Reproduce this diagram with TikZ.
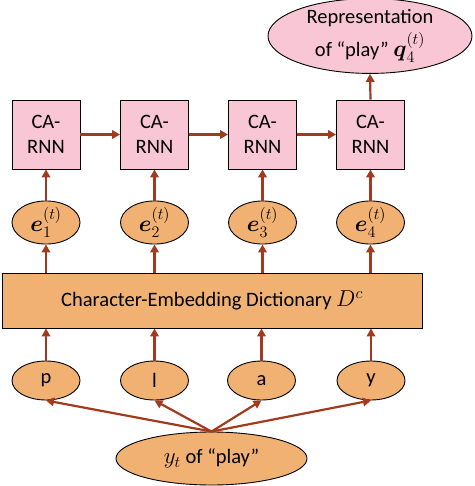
\documentclass[tikz,border=0pt]{standalone}
\usepackage{fix-cm}
\usepackage{amsmath}
\usepackage{fontspec}
\setmainfont{Carlito}
\usetikzlibrary{shapes.geometric,arrows.meta}
\definecolor{boxpink}{HTML}{F9C6D6}
\definecolor{ovorange}{HTML}{F0B172}
\definecolor{arrowred}{HTML}{A33A1F}
\newcommand\mymath[1]{{\fontsize{23}{23}\selectfont$#1$}}
\tikzset{
  lbl/.style={font=\fontsize{20.5}{24.5}\selectfont, align=center, inner sep=0pt},
  rnnbox/.style={lbl, draw=black, line width=0.9pt, fill=boxpink, rectangle, minimum width=68pt, minimum height=69pt},
  repov/.style={lbl, draw=black, line width=0.9pt, fill=boxpink, ellipse, minimum width=204pt, minimum height=64pt},
  embov/.style={lbl, draw=black, line width=0.9pt, fill=ovorange, ellipse, minimum width=68pt, minimum height=33pt},
  charov/.style={lbl, draw=black, line width=0.9pt, fill=ovorange, ellipse, minimum width=68pt, minimum height=39pt},
  dictbox/.style={lbl, draw=black, line width=0.9pt, fill=ovorange, rectangle, minimum width=420pt, minimum height=55pt},
  wordov/.style={lbl, draw=black, line width=0.9pt, fill=ovorange, ellipse, minimum width=191pt, minimum height=53pt},
  conn/.style={draw=arrowred, line width=2.2pt, -{Triangle[length=8pt,width=8.5pt]}}
}
\begin{document}
\begin{tikzpicture}[x=1pt,y=-1pt]
\useasboundingbox (0,0) rectangle (474,486);
\node[repov] (rep) at (370,36) {Representation\\[4pt] of “play” \mymath{\boldsymbol{q}_4^{(t)}}};
\node[rnnbox] (b1) at (46,134.5) {CA-\\RNN};
\node[rnnbox] (b2) at (154.5,134.5) {CA-\\RNN};
\node[rnnbox] (b3) at (262.5,134.5) {CA-\\RNN};
\node[rnnbox] (b4) at (370.5,134.5) {CA-\\RNN};
\node[embov] (e1) at (46,222.5) {\mymath{\boldsymbol{e}_1^{(t)}}};
\node[embov] (e2) at (154.5,222.5) {\mymath{\boldsymbol{e}_2^{(t)}}};
\node[embov] (e3) at (262.5,222.5) {\mymath{\boldsymbol{e}_3^{(t)}}};
\node[embov] (e4) at (370.5,222.5) {\mymath{\boldsymbol{e}_4^{(t)}}};
\node[dictbox] (dict) at (212,300.5) {Character-Embedding Dictionary \mymath{D^c}};
\node[charov] (c1) at (46,380.5) {p};
\node[charov] (c2) at (154.5,380.5) {l};
\node[charov] (c3) at (261.5,380.5) {a};
\node[charov] (c4) at (371,380.5) {y};
\node[wordov] (w) at (211.5,458.5) {\mymath{y_t} of “play”};
\draw[conn] (b4.north) -- (rep.south);
\draw[conn] (b1.east) -- (b2.west);
\draw[conn] (b2.east) -- (b3.west);
\draw[conn] (b3.east) -- (b4.west);
\foreach \i in {1,2,3,4}{
  \draw[conn] (e\i.north) -- (b\i.south);
  \draw[conn] (e\i.south |- dict.north) -- (e\i.south);
  \draw[conn] (c\i.north) -- (c\i.north |- dict.south);
  \draw[conn] (w.north) -- (c\i.south);
}
\end{tikzpicture}
\end{document}
